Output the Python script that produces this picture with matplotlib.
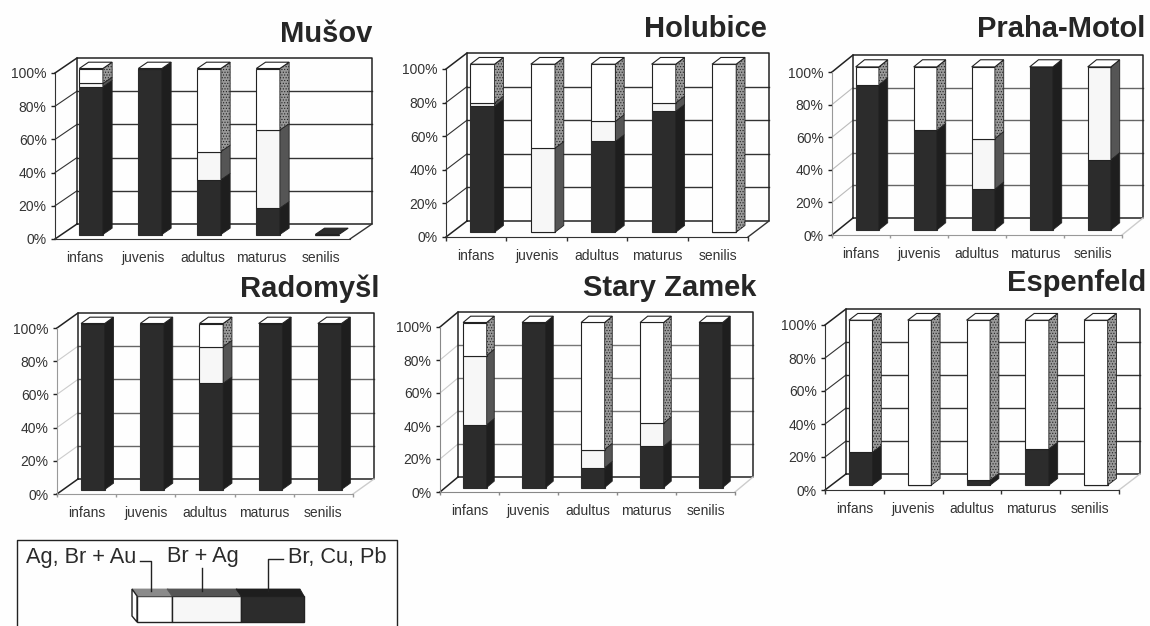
import matplotlib
matplotlib.use("Agg")
import matplotlib.pyplot as plt
from matplotlib.patches import Polygon
import numpy as np

plt.rcParams['font.family'] = ['Liberation Sans', 'DejaVu Sans']
plt.rcParams['hatch.linewidth'] = 0.5

FIG_W, FIG_H = 1150, 626

categories = ["infans", "juvenis", "adultus", "maturus", "senilis"]
y_ticks = [0, 20, 40, 60, 80, 100]
y_tick_labels = ["0%", "20%", "40%", "60%", "80%", "100%"]

# share of each group per age class, bottom to top
musov_br = [89, 100, 33, 16, 0]
musov_brag = [2, 0, 17, 47, 0]
musov_ag = [9, 0, 50, 37, 0]

holubice_br = [75, 0, 54, 72, 0]
holubice_brag = [2, 50, 12, 5, 0]
holubice_ag = [23, 50, 34, 23, 100]

praha_br = [89, 61, 25, 100, 43]
praha_brag = [0, 0, 31, 0, 57]
praha_ag = [11, 39, 44, 0, 0]

radomysl_br = [100, 100, 64, 100, 100]
radomysl_brag = [0, 0, 22, 0, 0]
radomysl_ag = [0, 0, 14, 0, 0]

stary_br = [38, 100, 12, 25, 100]
stary_brag = [42, 0, 11, 14, 0]
stary_ag = [20, 0, 77, 61, 0]

espenfeld_br = [20, 0, 3, 22, 0]
espenfeld_brag = [0, 0, 0, 0, 0]
espenfeld_ag = [80, 100, 97, 78, 100]

legend_labels = ["Ag, Br + Au", "Br + Ag", "Br, Cu, Pb"]

DARK = "#2c2c2c"
LINE = "#222222"
FRONT = [DARK, "#f7f7f7", "#ffffff"]
SIDE = ["#1e1e1e", "#555555", "#9a9a9a"]
SIDE_HATCH = [None, None, "......"]

panels = [
    dict(title="Mušov", vals=(musov_br, musov_brag, musov_ag),
         x0=55, x1=350, y0=239, y100=73, dx=22, dy=15,
         title_x=372, title_y=42, tick=0,
         grid="#333333", diag="#333333", floor="#333333", rdiag="#333333"),
    dict(title="Holubice", vals=(holubice_br, holubice_brag, holubice_ag),
         x0=446, x1=748, y0=237, y100=69, dx=21, dy=16,
         title_x=767, title_y=37, tick=3,
         grid="#333333", diag="#333333", floor="#333333", rdiag="#333333"),
    dict(title="Praha-Motol", vals=(praha_br, praha_brag, praha_ag),
         x0=832, x1=1122, y0=235, y100=72, dx=21, dy=17,
         title_x=1145, title_y=37, tick=2,
         grid="#666666", diag="#bbbbbb", floor="#999999", rdiag="#cccccc"),
    dict(title="Radomyšl", vals=(radomysl_br, radomysl_brag, radomysl_ag),
         x0=57, x1=353, y0=494, y100=328, dx=21, dy=15,
         title_x=380, title_y=297, tick=2,
         grid="#666666", diag="#cccccc", floor="#999999", rdiag="#cccccc"),
    dict(title="Stary Zamek", vals=(stary_br, stary_brag, stary_ag),
         x0=440, x1=735, y0=492, y100=327, dx=18, dy=15,
         title_x=756, title_y=296, tick=2,
         grid="#777777", diag="#cccccc", floor="#888888", rdiag="#cccccc"),
    dict(title="Espenfeld", vals=(espenfeld_br, espenfeld_brag, espenfeld_ag),
         x0=825, x1=1119, y0=490, y100=325, dx=21, dy=16,
         title_x=1146, title_y=291, tick=3,
         grid="#333333", diag="#333333", floor="#333333", rdiag="#cccccc"),
]

fig = plt.figure(figsize=(FIG_W / 100, FIG_H / 100), dpi=100, facecolor="#fefefe")


def draw_panel(p):
    ax = fig.add_axes([p["x0"] / FIG_W, 1 - p["y0"] / FIG_H,
                       (p["x1"] - p["x0"]) / FIG_W, (p["y0"] - p["y100"]) / FIG_H])
    ax.patch.set_alpha(0)
    ax.set_xlim(-0.5, 4.5)
    ax.set_ylim(0, 100)
    # full depth of the chart box in data units
    ox = p["dx"] * 5 / (p["x1"] - p["x0"])
    oy = p["dy"] * 100 / (p["y0"] - p["y100"])

    # walls and grid
    for v in y_ticks[1:-1]:
        ax.plot([-0.5 + ox, 4.5 + ox], [v + oy, v + oy], color=p["grid"], lw=1, clip_on=False, zorder=1)
        ax.plot([-0.5, -0.5 + ox], [v, v + oy], color=p["diag"], lw=0.8, clip_on=False, zorder=1)
    ax.plot([-0.5 + ox, 4.5 + ox, 4.5 + ox, -0.5 + ox, -0.5 + ox],
            [oy, oy, 100 + oy, 100 + oy, oy], color=LINE, lw=1.1, clip_on=False, zorder=1)
    ax.plot([-0.5, -0.5 + ox], [100, 100 + oy], color=LINE, lw=1.1, clip_on=False, zorder=1)
    ax.plot([-0.5, -0.5 + ox], [0, oy], color=LINE, lw=1.1, clip_on=False, zorder=1)
    ax.plot([4.5, 4.5 + ox], [0, oy], color=p["rdiag"], lw=1, clip_on=False, zorder=1)

    # bars sit part way into the box
    width = 0.4
    d0, d1 = 0.3, 0.72
    x = np.arange(5) + d0 * ox
    xr = x + width / 2
    sx, sy = (d1 - d0) * ox, (d1 - d0) * oy
    bottom = np.zeros(5)
    for k, vals in enumerate(p["vals"]):
        vals = np.array(vals, dtype=float)
        ax.bar(x, vals, width, bottom=bottom + d0 * oy, color=FRONT[k],
               edgecolor=DARK if k == 0 else LINE, linewidth=0.8, zorder=3, clip_on=False)
        for i in range(5):
            if vals[i] > 0:
                a, b = bottom[i] + d0 * oy, bottom[i] + vals[i] + d0 * oy
                ax.add_patch(Polygon([(xr[i], a), (xr[i] + sx, a + sy), (xr[i] + sx, b + sy), (xr[i], b)],
                                     facecolor=SIDE[k], edgecolor=LINE, linewidth=0.6,
                                     hatch=SIDE_HATCH[k], zorder=3, clip_on=False))
        bottom += vals
    for i in range(5):
        top = bottom[i] + d0 * oy
        face = "#ffffff" if bottom[i] > 0 else DARK
        ax.add_patch(Polygon([(xr[i] - width, top), (xr[i], top), (xr[i] + sx, top + sy),
                              (xr[i] - width + sx, top + sy)],
                             facecolor=face, edgecolor=LINE, linewidth=0.8, zorder=4, clip_on=False))

    for side in ("top", "right"):
        ax.spines[side].set_visible(False)
    ax.spines["left"].set_color(p["floor"])
    ax.spines["bottom"].set_color(p["floor"])
    ax.set_yticks(y_ticks, y_tick_labels)
    ax.set_xticks(range(5), categories)
    ax.set_xticks(np.arange(-0.5, 5), minor=True)
    ax.tick_params(axis="y", length=3, width=1, pad=3, labelsize=10, labelcolor="#333333", color=LINE)
    ax.tick_params(axis="x", which="major", length=0, pad=8.5, labelsize=10, labelcolor="#333333")
    ax.tick_params(axis="x", which="minor", length=p["tick"], width=1, color=p["floor"])
    fig.text(p["title_x"] / FIG_W, 1 - p["title_y"] / FIG_H, p["title"], ha="right", va="baseline",
             fontsize=21, fontweight="bold", color="#262626")


for panel in panels:
    draw_panel(panel)

# key at the bottom, drawn in pixel coordinates
key = fig.add_axes([0, 0, 1, 1])
key.set_xlim(0, FIG_W)
key.set_ylim(FIG_H, 0)
key.axis("off")
key.patch.set_alpha(0)
key.plot([17, 17, 397, 397], [625, 540, 540, 625], color=LINE, lw=1)

seg_x = [137, 172, 241, 304]
for i, (front, side) in enumerate(zip(["#ffffff", "#f7f7f7", DARK], ["#8a8a8a", "#555555", "#1e1e1e"])):
    key.add_patch(Polygon([(seg_x[i], 596), (seg_x[i + 1], 596), (seg_x[i + 1], 622), (seg_x[i], 622)],
                          facecolor=front, edgecolor=LINE, linewidth=1))
    key.add_patch(Polygon([(seg_x[i], 596), (seg_x[i + 1], 596), (seg_x[i + 1] - 4, 589), (seg_x[i] - 5, 589)],
                          facecolor=side, edgecolor=side, linewidth=0.6))
key.add_patch(Polygon([(132, 589), (137, 596), (137, 622), (132, 616)],
                      facecolor="#ffffff", edgecolor=LINE, linewidth=1))

key.plot([140, 151, 151], [561, 561, 591], color=LINE, lw=1)
key.plot([202, 202], [568, 591], color=LINE, lw=1)
key.plot([283, 268, 268], [559, 559, 591], color=LINE, lw=1)

key.text(26, 563, legend_labels[0], ha="left", va="baseline", fontsize=15.7, color="#2a2a2a")
key.text(167, 562, legend_labels[1], ha="left", va="baseline", fontsize=15.7, color="#2a2a2a")
key.text(288, 563, legend_labels[2], ha="left", va="baseline", fontsize=15.7, color="#2a2a2a")

fig.savefig("out.png", dpi=100, facecolor=fig.get_facecolor())
